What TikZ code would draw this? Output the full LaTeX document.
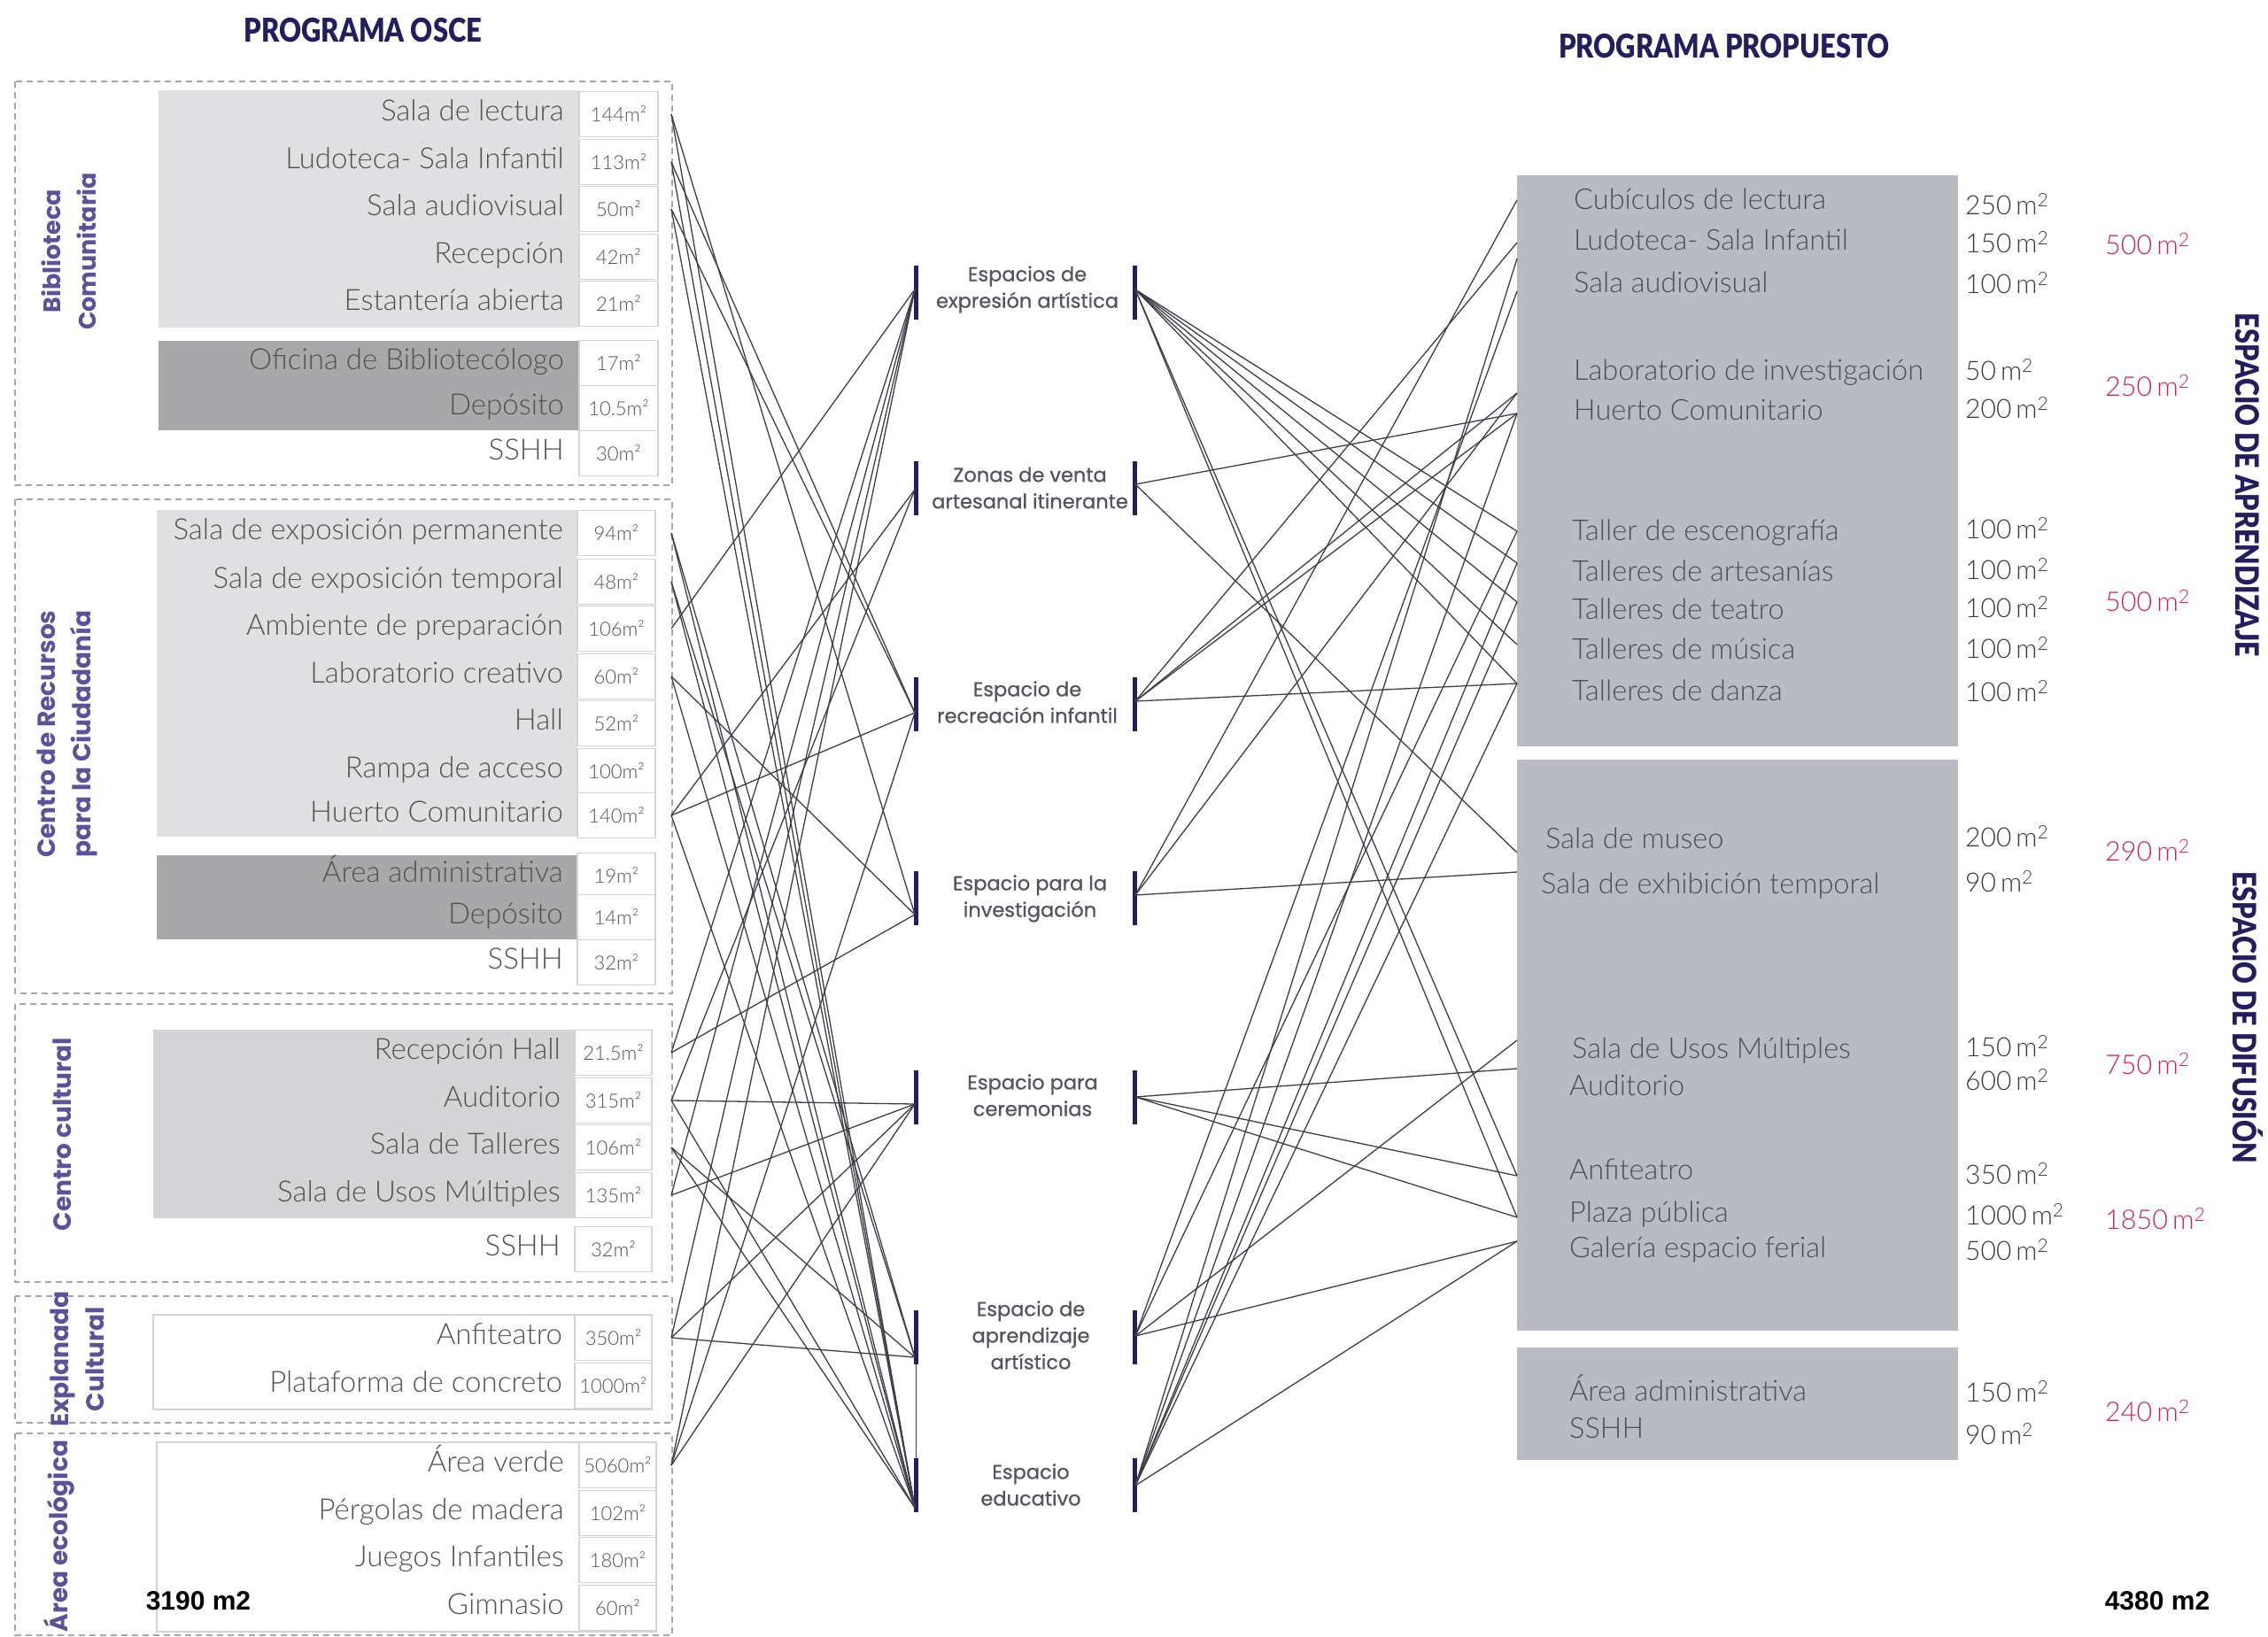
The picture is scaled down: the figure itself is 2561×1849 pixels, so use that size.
\documentclass[tikz,border=0pt]{standalone}
\usepackage{fontspec}
\setmainfont{Lato}
\newfontfamily\lightf{Lato Light}
\newfontfamily\popf{Poppins}
\newfontfamily\popmd[FakeBold=0.7]{Poppins}
\newfontfamily\titlef[FakeStretch=0.835]{Lato Black}
\newfontfamily\arialf{Liberation Sans}
\definecolor{navy}{RGB}{36,31,92}
\definecolor{purp}{RGB}{92,82,152}
\definecolor{lightg}{RGB}{224,224,226}
\definecolor{lightgc}{RGB}{212,212,214}
\definecolor{darkg}{RGB}{168,168,170}
\definecolor{cellb}{RGB}{212,212,212}
\definecolor{dashc}{RGB}{165,165,172}
\definecolor{itemc}{RGB}{82,82,82}
\definecolor{midc}{RGB}{84,84,92}
\definecolor{linec}{RGB}{62,62,70}
\definecolor{rboxc}{RGB}{185,186,194}
\definecolor{ritc}{RGB}{78,78,86}
\definecolor{rarc}{RGB}{60,60,60}
\definecolor{pinkc}{RGB}{198,38,92}
\tikzset{
  ttl/.style={inner sep=0pt, text=navy, font=\titlef\fontsize{37}{40}\selectfont},
  grp/.style={draw=dashc, line width=1.5pt, dash pattern=on 7pt off 5pt},
  cellbox/.style={draw=cellb, line width=1.2pt, fill=white, inner sep=0pt, text=itemc, font=\lightf\fontsize{22}{24}\selectfont},
  itm/.style={anchor=mid east, inner sep=0pt, text=itemc, font=\lightf\fontsize{33}{36}\selectfont},
  glab/.style={rotate=90, align=center, inner sep=0pt, text=purp, font=\popf\bfseries\fontsize{28}{40}\selectfont},
  mlab/.style={align=center, inner sep=0pt, text=midc, font=\popmd\fontsize{22.5}{30}\selectfont},
  barn/.style={fill=navy, draw=none, inner sep=0pt, minimum width=5pt, minimum height=61pt},
  conn/.style={draw=linec, line width=1.3pt},
  ritm/.style={anchor=mid west, inner sep=0pt, text=ritc, font=\lightf\fontsize{32.5}{36}\selectfont},
  rar/.style={anchor=mid west, inner sep=0pt, text=rarc, font=\lightf\fontsize{30}{34}\selectfont},
  pinkt/.style={anchor=mid west, inner sep=0pt, text=pinkc, font=\lightf\fontsize{30.5}{34}\selectfont},
  sidel/.style={rotate=-90, inner sep=0pt, text=navy, font=\titlef\fontsize{36.5}{40}\selectfont},
  totl/.style={inner sep=0pt, text=black, font=\arialf\bfseries\fontsize{30}{34}\selectfont},
  rbox/.style={fill=rboxc, draw=none, anchor=north west, inner sep=0pt}
}
\begin{document}
\begin{tikzpicture}[x=1pt,y=-1pt]
\useasboundingbox (0,0) rectangle (2561,1849);
\fill[white] (0,0) rectangle (2561,1849);

% ---------- titles
\node[ttl] (t1) at (410,34) {PROGRAMA OSCE};
\node[ttl] (t2) at (1947,52) {PROGRAMA PROPUESTO};

% ---------- left groups (dashed frames)
\draw[grp] (17,92) rectangle (759,548);
\draw[grp] (17,564) rectangle (759,1122);
\draw[grp] (17,1134) rectangle (759,1448);
\draw[grp] (17,1464) rectangle (759,1607);
\draw[grp] (17,1619) rectangle (759,1847);

% group labels
\node[glab, font=\popf\bfseries\fontsize{27}{40}\selectfont] (g1) at (78,284) {Biblioteca\\Comunitaria};
\node[glab] (g2) at (76,829) {Centro de Recursos\\para la Ciudadanía};
\node[glab] (g3) at (70,1281) {Centro cultural};
\node[glab] (g4) at (87,1535) {Explanada\\Cultural};
\node[glab] (g5) at (67,1735) {Área ecológica};

% blocks
\fill[lightg] (179,102) rectangle (654,370);
\fill[darkg] (179,385) rectangle (654,486);
\fill[lightg] (177,576) rectangle (652,945);
\fill[darkg] (177,966) rectangle (652,1061);
\fill[lightgc] (173,1163) rectangle (649,1376);
\draw[cellb, line width=1.2pt, fill=white] (173,1485) rectangle (736,1592);
\draw[cellb, line width=1.2pt, fill=white] (177,1629) rectangle (741,1843);

% group 1 rows
\foreach \nm/\yy/\rlab/\rarea in {lectura/129/Sala de lectura/144m², ludo/183/Ludoteca- Sala Infantil/113m², audio/236/Sala audiovisual/50m², recep/290/Recepción/42m², estan/343/Estantería abierta/21m², ofic/410/Oficina de Bibliotecólogo/17m², depoa/461/Depósito/10.5m², sshha/512/SSHH/30m²}{
  \node[cellbox, minimum width=89pt, minimum height=51pt] (c-\nm) at (698.5,\yy) {\rarea};
  \node[itm] (l-\nm) at (637,\yy+5) {\rlab};
  \coordinate (p-\nm) at (758,\yy);
}
% group 2 rows
\foreach \nm/\yy/\rlab/\rarea in {expperm/602/Sala de exposición permanente/94m², exptemp/657/Sala de exposición temporal/48m², ambi/710/Ambiente de preparación/106m², labc/764/Laboratorio creativo/60m², hall/817/Hall/52m², rampa/871/Rampa de acceso/100m², huerto/921/Huerto Comunitario/140m², admin/989/Área administrativa/19m², depob/1036/Depósito/14m², sshhb/1087/SSHH/32m²}{
  \node[cellbox, minimum width=88pt, minimum height=51pt] (c-\nm) at (696,\yy) {\rarea};
  \node[itm] (l-\nm) at (636,\yy+5) {\rlab};
  \coordinate (p-\nm) at (758,\yy);
}
% group 3 rows
\foreach \nm/\yy/\rlab/\rarea in {rhall/1189/Recepción Hall/21.5m², audit/1243/Auditorio/315m², talle/1296/Sala de Talleres/106m², sum/1350/Sala de Usos Múltiples/135m², sshhc/1411/SSHH/32m²}{
  \node[cellbox, minimum width=87pt, minimum height=51pt] (c-\nm) at (692.5,\yy) {\rarea};
  \node[itm] (l-\nm) at (633,\yy+5) {\rlab};
  \coordinate (p-\nm) at (758,\yy);
}
% group 4 rows
\foreach \nm/\yy/\rlab/\rarea in {anfi/1511/Anfiteatro/350m², plat/1565/Plataforma de concreto/1000m²}{
  \node[cellbox, minimum width=87pt, minimum height=51pt] (c-\nm) at (692.5,\yy) {\rarea};
  \node[itm] (l-\nm) at (635,\yy+5) {\rlab};
  \coordinate (p-\nm) at (758,\yy);
}
% group 5 rows
\foreach \nm/\yy/\rlab/\rarea in {verde/1655/Área verde/5060m², perg/1709/Pérgolas de madera/102m², juegos/1762/Juegos Infantiles/180m², gimn/1816/Gimnasio/60m²}{
  \node[cellbox, minimum width=87pt, minimum height=51pt] (c-\nm) at (697.5,\yy) {\rarea};
  \node[itm] (l-\nm) at (637,\yy+5) {\rlab};
  \coordinate (p-\nm) at (758,\yy);
}
\node[totl] (tot1) at (224,1808) {3190 m2};

% ---------- middle labels and bars
\node[mlab] (m1) at (1160,327) {Espacios de\\expresión artística};
\node[mlab] (m2) at (1163,551) {Zonas de venta\\artesanal itinerante};
\node[mlab] (m3) at (1160,793) {Espacio de\\recreación infantil};
\node[mlab] (m4) at (1163,1015) {Espacio para la\\investigación};
\node[mlab] (m5) at (1166,1237) {Espacio para\\ceremonias};
\node[mlab] (m6) at (1164,1508) {Espacio de\\aprendizaje\\artístico};
\node[mlab] (m7) at (1164,1677) {Espacio\\educativo};

\foreach \i/\yc in {1/330.5, 2/551, 3/795, 4/1014, 5/1239.5, 6/1510, 7/1677.5}{
  \node[barn] (bl\i) at (1034,\yc) {};
  \node[barn] (br\i) at (1281,\yc) {};
}
\foreach \i/\yp in {1/327, 2/553, 3/805, 4/1033, 5/1247, 6/1533, 7/1703}{
  \coordinate (ql\i) at (1033,\yp);
}
\foreach \i/\yp in {1/327, 2/547, 3/792, 4/1011, 5/1239, 6/1509, 7/1678}{
  \coordinate (qr\i) at (1282,\yp);
}

% ---------- right boxes
\node[rbox, minimum width=498pt, minimum height=645pt] (boxa) at (1713,198) {};
\node[rbox, minimum width=498pt, minimum height=645pt] (boxb) at (1713,858) {};
\node[rbox, minimum width=498pt, minimum height=127pt] (boxc) at (1713,1522) {};

\foreach \nm/\yy/\xx/\rlab/\rarea/\ya in {cub/225/1777/Cubículos de lectura/250/233, ludo/271/1777/Ludoteca- Sala Infantil/150/276, audio/319/1777/Sala audiovisual/100/322, lab/418/1777/Laboratorio de investigación/50/420, huerto/463/1777/Huerto Comunitario/200/463, escen/599/1775/Taller de escenografía/100/599, artes/645/1775/Talleres de artesanías/100/645, teatro/688/1775/Talleres de teatro/100/688, musica/733/1775/Talleres de música/100/734, danza/780/1775/Talleres de danza/100/783, museo/947/1745/Sala de museo/200/947, exhib/998/1740/Sala de exhibición temporal/90/998, sum/1184/1775/Sala de Usos Múltiples/150/1184, aud/1226/1772/Auditorio/600/1222, anfi/1321/1772/Anfiteatro/350/1328, plaza/1369/1772/Plaza pública/1000/1374, gal/1409/1772/Galería espacio ferial/500/1414, adm/1571/1772/Área administrativa/150/1574, sshh/1613/1772/SSHH/90/1622}{
  \node[ritm] (i-\nm) at (\xx,\yy+9) {\rlab};
  \node[rar] (a-\nm) at (2219,\ya+7) {\rarea\,m\textsuperscript{2}};
}
\foreach \nm/\yy/\rarea in {ta/277/500, tb/437/250, tc/680/500, td/962/290, te/1203/750, tf/1378/1850, tg/1595/240}{
  \node[pinkt] (s-\nm) at (2377,\yy+8) {\rarea\,m\textsuperscript{2}};
}
\node[sidel] (sa) at (2538,548) {ESPACIO DE APRENDIZAJE};
\node[sidel] (sb) at (2538,1149) {ESPACIO DE DIFUSIÓN};
\node[totl] (tot2) at (2436,1808) {4380 m2};

% right ports on box edge
\foreach \nm/\yp in {cub/226, ludo/274, audiob/292, audio/329, lab/444, huerto/467, escen/600, artes/636, teatro/680, musica/728, danza/772, museo/963, exhib/985, sum/1175, aud/1207, anfi/1328, plaza/1375, gal/1402}{
  \coordinate (r-\nm) at (1713,\yp);
}

% ---------- connectors left
\foreach \a/\b in {lectura/4, lectura/7, ludo/3, ludo/7, audio/3, audio/7, expperm/6, expperm/7, exptemp/6, exptemp/7, ambi/1, labc/4, labc/7, huerto/2, huerto/3, huerto/7, rhall/1, rhall/4, audit/2, audit/5, audit/7, talle/6, talle/7, sum/1, sum/5, anfi/1, anfi/5, anfi/6, verde/1, verde/3, verde/5}{
  \draw[conn] (p-\a) -- (ql\b);
}
\draw[linec, line width=0.8pt] (bl6.south) -- (bl7.north);

% ---------- connectors right
\foreach \a/\b in {1/escen, 1/artes, 1/teatro, 1/musica, 1/danza, 1/anfi, 1/plaza, 2/huerto, 2/museo, 3/ludo, 3/lab, 3/huerto, 3/danza, 4/cub, 4/lab, 4/exhib, 5/aud, 5/anfi, 5/plaza, 6/audio, 6/escen, 6/sum, 6/gal, 7/audiob, 7/huerto, 7/teatro, 7/danza, 7/gal, 7/artes}{
  \draw[conn] (qr\a) -- (r-\b);
}
\end{tikzpicture}
\end{document}
